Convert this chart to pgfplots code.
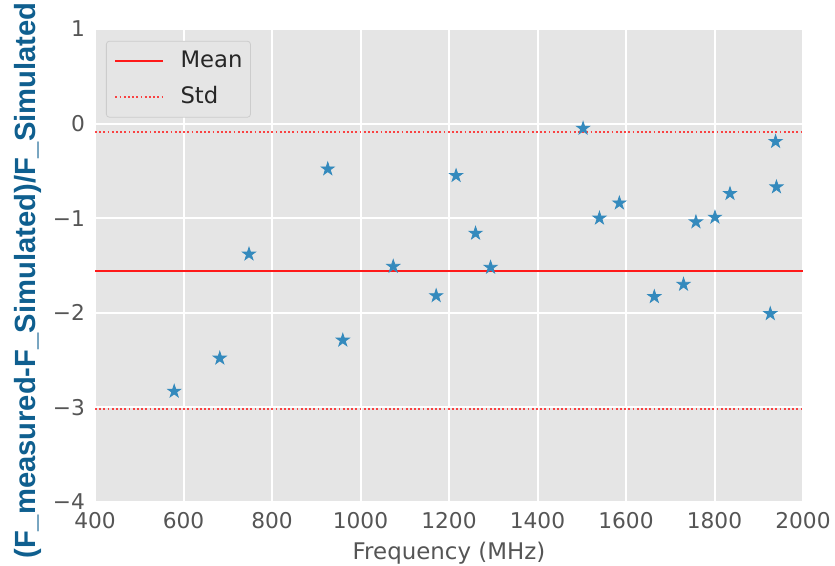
\documentclass[border=0pt]{standalone}
\usepackage{pgfplots}
\pgfplotsset{compat=1.18}
\usepackage{fontspec}
\setmainfont{DejaVu Sans}
\newfontfamily\arialb{Liberation Sans}
\definecolor{bgc}{HTML}{E5E5E5}
\definecolor{tickc}{HTML}{555555}
\definecolor{ptc}{HTML}{348ABD}
\definecolor{labc}{HTML}{0F5F8F}
\definecolor{lgb}{HTML}{CCCCCC}
\definecolor{mred}{HTML}{FF1A1A}
\pgfdeclareplotmark{fstar}{%
  \pgfpathmoveto{\pgfpointpolar{90}{1\pgfplotmarksize}}%
  \pgfpathlineto{\pgfpointpolar{126}{0.382\pgfplotmarksize}}%
  \pgfpathlineto{\pgfpointpolar{162}{1\pgfplotmarksize}}%
  \pgfpathlineto{\pgfpointpolar{198}{0.382\pgfplotmarksize}}%
  \pgfpathlineto{\pgfpointpolar{234}{1\pgfplotmarksize}}%
  \pgfpathlineto{\pgfpointpolar{270}{0.382\pgfplotmarksize}}%
  \pgfpathlineto{\pgfpointpolar{306}{1\pgfplotmarksize}}%
  \pgfpathlineto{\pgfpointpolar{342}{0.382\pgfplotmarksize}}%
  \pgfpathlineto{\pgfpointpolar{18}{1\pgfplotmarksize}}%
  \pgfpathlineto{\pgfpointpolar{54}{0.382\pgfplotmarksize}}%
  \pgfpathclose
  \pgfusepathqfillstroke
}
\pgfplotstableread{
x y
579 -2.83
682 -2.48
748 -1.38
926 -0.48
960 -2.29
1074 -1.51
1171 -1.82
1216 -0.55
1260 -1.16
1294 -1.52
1503 -0.05
1540 -1.00
1585 -0.84
1664 -1.83
1730 -1.70
1758 -1.04
1801 -0.99
1835 -0.74
1926 -2.01
1938 -0.19
1940 -0.67
}\ptdata
\begin{document}
\begin{tikzpicture}
\begin{axis}[
  at={(0,0)}, anchor=south west,
  scale only axis, width=354bp, height=236.5bp,
  xmin=400, xmax=2000, ymin=-4, ymax=1,
  axis background/.style={fill=bgc},
  axis line style={draw=none},
  major tick length=0pt,
  grid=major, major grid style={white, line width=1bp},
  xtick={400,600,...,2000},
  xticklabels={400,600,800,1000,1200,1400,1600,1800,2000},
  ytick={-4,-3,-2,-1,0,1},
  yticklabels={−4,−3,−2,−1,0,1},
  tick label style={font=\fontsize{10.9}{12}\selectfont, text=tickc},
  xticklabel style={yshift=-1.5bp},
  yticklabel style={xshift=-1.5bp},
  xlabel={Frequency (MHz)},
  xlabel style={at={(axis description cs:0.5,0)}, anchor=base, yshift=-28.5bp,
    font=\fontsize{11.5}{13}\selectfont, text=tickc},
  legend style={at={(rel axis cs:0.0155,0.975)}, anchor=north west,
    fill=bgc, draw=lgb, rounded corners=1.5bp,
    font=\fontsize{11.4}{13}\selectfont, text=black!85,
    inner xsep=4bp, inner ysep=4.5bp, row sep=7bp, column sep=8bp,
    nodes={inner sep=0pt, text height=8.5bp, text depth=2.5bp}},
  legend cell align=left,
  legend image code/.code={\draw[#1] (0bp,0bp) -- (24bp,0bp);},
]
\addplot[mred, line width=1.1bp] coordinates {(400,-1.56) (2000,-1.56)};
\addlegendentry{Mean}
\addplot[mred, opacity=0.8, line width=1bp, dash pattern=on 0.9bp off 1.2bp] coordinates {(400,-0.09) (2000,-0.09)};
\addlegendentry{Std}
\addplot[mred, opacity=0.8, line width=1bp, dash pattern=on 0.9bp off 1.2bp, forget plot] coordinates {(400,-3.02) (2000,-3.02)};
\addplot[only marks, mark=fstar, mark size=3.4bp, draw=ptc, fill=ptc, line width=0.4bp, forget plot] table[x=x,y=y] {\ptdata};
\end{axis}
\node[rotate=90, anchor=center, text=labc, font=\arialb\bfseries\fontsize{14.65}{16}\selectfont] at (-33.5bp,110.75bp) {(F\_measured-F\_Simulated)/F\_Simulated};
\pgfresetboundingbox
\path (-47.5bp,-32bp) rectangle (370bp,251bp);
\end{tikzpicture}
\end{document}
